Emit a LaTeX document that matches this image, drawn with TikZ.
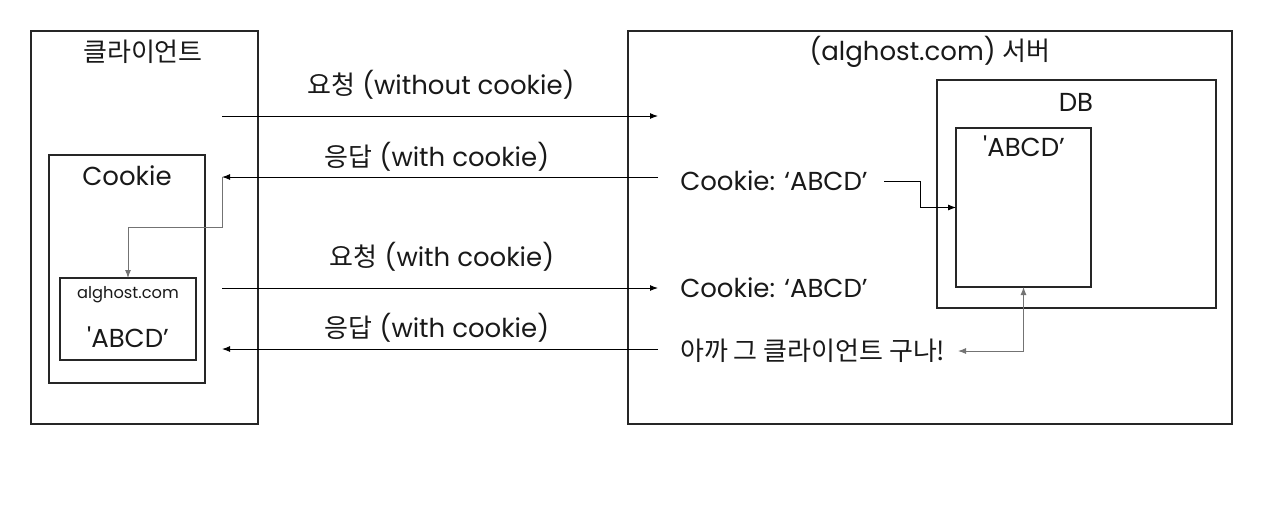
\documentclass[tikz,border=0pt]{standalone}
\usepackage{fontspec}
\newfontfamily\lat{Poppins}
\newfontfamily\kr{Noto Sans CJK KR}
\usetikzlibrary{arrows.meta}
\begin{document}
\begin{tikzpicture}[x=0.75pt,y=-0.75pt,
  box/.style={draw=black!85, line width=1.1pt, inner sep=0pt, outer sep=0pt},
  txt/.style={font=\lat\fontsize{19.5}{22}\selectfont, inner sep=0pt, text=black!90},
  small/.style={font=\lat\fontsize{12.2}{14}\selectfont, inner sep=0pt, text=black!90},
  conn/.style={draw=black, line width=0.75pt, -{Latex[length=6pt,width=4.5pt]}},
  gconn/.style={draw=black!55, line width=0.75pt, -{Latex[length=6pt,width=4.5pt]}},
  gdouble/.style={draw=black!55, line width=0.75pt, {Latex[length=6pt,width=4.5pt]}-{Latex[length=6pt,width=4.5pt]}}]
\useasboundingbox (0,0) rectangle (1267,504);
\fill[white] (0,0) rectangle (1267,504);
% boxes
\node[box, minimum width=170.25pt, minimum height=294.75pt] (client) at (144.5,227.5) {};
\node[box, minimum width=117pt, minimum height=171pt] (cookie) at (127,269) {};
\node[box, minimum width=102pt, minimum height=61.5pt] (alg) at (128,319) {};
\node[box, minimum width=453pt, minimum height=294.75pt] (server) at (930,227.5) {};
\node[box, minimum width=209.25pt, minimum height=171pt] (db) at (1076.5,194) {};
\node[box, minimum width=101.25pt, minimum height=119.25pt] (inner) at (1023.5,207.5) {};
% titles
\node[txt] (tclient) at (143,52) {\kr 클라이언트};
\node[txt] (tcookie) at (127,176) {Cookie};
\node[small] (talg) at (128,295) {alghost.com};
\node[txt] (tabcd1) at (128,337) {'ABCD’};
\node[txt] (tserver) at (930,52) {(alghost.com) {\kr 서버}};
\node[txt] (tdb) at (1076,102) {DB};
\node[txt] (tabcd2) at (1024,146) {'ABCD’};
% labels
\node[txt] (l1) at (441,85) {{\kr 요청} (without cookie)};
\node[txt] (l2) at (437,157) {{\kr 응답} (with cookie)};
\node[txt] (l3) at (442,257) {{\kr 요청} (with cookie)};
\node[txt] (l4) at (437,328) {{\kr 응답} (with cookie)};
\node[txt, anchor=west] (s1) at (680,181) {Cookie: ‘ABCD’};
\node[txt, anchor=west] (s2) at (680,288) {Cookie: ‘ABCD’};
\node[txt, anchor=west] (s3) at (680,351) {\kr 아까 그 클라이언트 구나!};
% connector endpoints
\coordinate (a1) at (222,116); \coordinate (b1) at (658,116);
\coordinate (a2) at (658,177); \coordinate (b2) at (222,177);
\coordinate (a3) at (222,288); \coordinate (b3) at (658,288);
\coordinate (a4) at (658,349); \coordinate (b4) at (222,349);
\coordinate (k1) at (884,181);
\coordinate (k3) at (958,351);
% connectors
\draw[conn] (a1) -- (b1);
\draw[conn] (a2) -- (b2);
\draw[conn] (a3) -- (b3);
\draw[conn] (a4) -- (b4);
\draw[gconn] (b2) -- ++(0,50) -| (alg.north);
\draw[conn, line width=0.6pt] (k1) -- ++(36,0) |- (inner.west);
\draw[gdouble] (inner.south) |- (k3);
\end{tikzpicture}
\end{document}
